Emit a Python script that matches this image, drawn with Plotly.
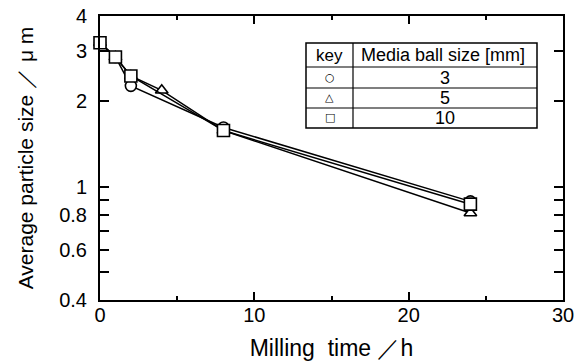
import math
import plotly.graph_objects as go

# Milling time (h) and average particle size (um) for each media ball size
time_3mm = [0, 1, 2, 8, 24]
size_3mm = [3.22, 2.87, 2.27, 1.62, 0.89]

time_5mm = [0, 1, 2, 4, 8, 24]
size_5mm = [3.22, 2.87, 2.46, 2.19, 1.58, 0.81]

time_10mm = [0, 1, 2, 8, 24]
size_10mm = [3.22, 2.87, 2.46, 1.58, 0.87]

y_tickvals = [0.4, 0.5, 0.6, 0.7, 0.8, 0.9, 1, 2, 3, 4]
y_ticktext = ["0.4", "", "0.6", "", "0.8", "", "1", "2", "3", "4"]
x_tickvals = [0, 10, 20, 30]

key_rows = [("○", "3"), ("△", "5"), ("□", "10")]

FONT = "Liberation Sans, Arial, sans-serif"

# plot-area geometry in pixels
W_FIG, H_FIG = 580, 361
L, R, T, B = 100, 563, 16, 300


def px(x):
    return (x - L) / (R - L)


def py(y):
    return (B - y) / (B - T)


fig = go.Figure()

series = [
    (time_3mm, size_3mm, "circle", 11),
    (time_5mm, size_5mm, "triangle-up", 11),
    (time_10mm, size_10mm, "square", 12),
]
for t, s, sym, ms in series:
    fig.add_trace(go.Scatter(
        x=t, y=s, mode="lines+markers",
        line=dict(color="black", width=1.5),
        marker=dict(symbol=sym, size=ms, color="white",
                    line=dict(color="black", width=1.6)),
        showlegend=False, cliponaxis=False,
    ))

axis_common = dict(
    showline=True, linecolor="black", linewidth=2, mirror="ticks",
    ticks="inside", tickcolor="black", tickwidth=2,
    showgrid=False, zeroline=False, automargin=False,
    tickfont=dict(family=FONT, size=20, color="black"),
)

fig.update_xaxes(
    range=[0, 30], tickvals=x_tickvals, ticklen=8, ticklabelstandoff=-4,
    minor=dict(tickvals=[5, 15, 25], ticklen=4, ticks="inside",
               tickcolor="black", tickwidth=2),
    title=dict(text="Milling\u00a0\u00a0time\u00a0／h",
               font=dict(family=FONT, size=23, color="black"), standoff=15),
    **axis_common,
)
fig.update_yaxes(
    type="log", range=[math.log10(0.4), math.log10(4)],
    tickvals=y_tickvals, ticktext=y_ticktext, ticklen=9, ticklabelstandoff=7,
    title=dict(text="Average particle size\u00a0／\u00a0μ\u00a0m",
               font=dict(family=FONT, size=21, color="black"), standoff=20),
    **axis_common,
)

# key table
shapes = []
tx0, tx1, ty0, ty1, colx = 306, 537, 43, 128, 353
rows_y = [43, 67, 88, 108, 128]
shapes.append(dict(type="rect", xref="paper", yref="paper",
                   x0=px(tx0), x1=px(tx1), y0=py(ty1), y1=py(ty0),
                   line=dict(color="black", width=1.5), fillcolor="white", layer="above"))
for yy in rows_y[1:-1]:
    shapes.append(dict(type="line", xref="paper", yref="paper",
                       x0=px(tx0), x1=px(tx1), y0=py(yy), y1=py(yy),
                       line=dict(color="black", width=1.2), layer="above"))
shapes.append(dict(type="line", xref="paper", yref="paper",
                   x0=px(colx), x1=px(colx), y0=py(ty1), y1=py(ty0),
                   line=dict(color="black", width=1.2), layer="above"))


def cell_text(xc, yc, text, family, size):
    return dict(x=px(xc), y=py(yc), xref="paper", yref="paper", text=text,
                showarrow=False, xanchor="center", yanchor="middle",
                font=dict(family=family, size=size, color="black"))


annotations = []
head_y = (rows_y[0] + rows_y[1]) / 2
annotations.append(cell_text((tx0 + colx) / 2, head_y, "key", FONT, 17))
annotations.append(cell_text((colx + tx1) / 2 - 2, head_y, "Media ball size [mm]", FONT, 18))
for i, (sym, label) in enumerate(key_rows):
    yc = (rows_y[i + 1] + rows_y[i + 2]) / 2
    annotations.append(cell_text((tx0 + colx) / 2, yc, sym, "DejaVu Sans", 11))
    annotations.append(cell_text((colx + tx1) / 2, yc, label, FONT, 18))

fig.update_layout(
    width=W_FIG, height=H_FIG,
    margin=dict(l=L, r=W_FIG - R, t=T, b=H_FIG - B),
    paper_bgcolor="white", plot_bgcolor="white",
    shapes=shapes, annotations=annotations,
)

fig.write_html("out.html")
